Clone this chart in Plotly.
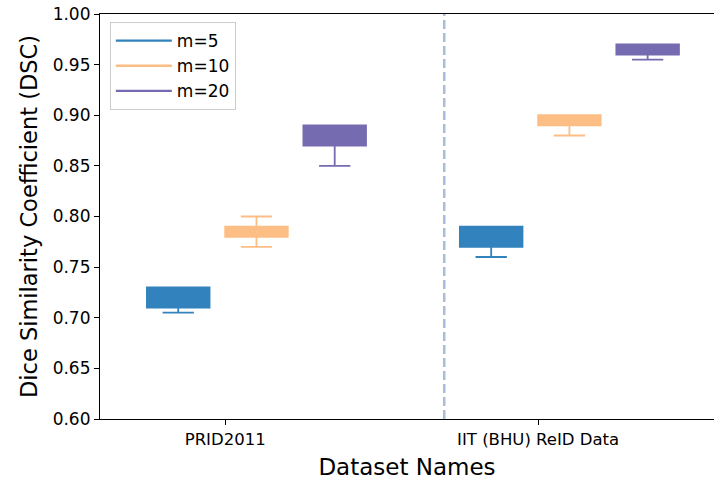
import plotly.graph_objects as go

categories = ["PRID2011", "IIT (BHU) ReID Data"]
series = ["m=5", "m=10", "m=20"]
colors = ["#3182bd", "#fdbe85", "#756bb1"]
offsets = [-0.15, 0.10, 0.35]

lowerfence = {"m=5": [0.705, 0.76], "m=10": [0.77, 0.88], "m=20": [0.85, 0.955]}
q1 = {"m=5": [0.71, 0.77], "m=10": [0.78, 0.89], "m=20": [0.87, 0.96]}
median = {"m=5": [0.72, 0.78], "m=10": [0.785, 0.895], "m=20": [0.88, 0.965]}
q3 = {"m=5": [0.73, 0.79], "m=10": [0.79, 0.90], "m=20": [0.89, 0.97]}
upperfence = {"m=5": [0.73, 0.79], "m=10": [0.80, 0.90], "m=20": [0.89, 0.97]}

cat_pos = [0, 1]
sep_x = 0.7

fig = go.Figure()
for s, c, off in zip(series, colors, offsets):
    fig.add_trace(go.Box(
        x=[p + off for p in cat_pos],
        q1=q1[s], median=median[s], q3=q3[s],
        lowerfence=lowerfence[s], upperfence=upperfence[s],
        width=0.2, whiskerwidth=0.5,
        fillcolor=c, line=dict(color=c, width=1.8),
        showlegend=False, hoverinfo="skip",
    ))
for s, c in zip(series, colors):
    fig.add_trace(go.Scatter(x=[None], y=[None], mode="lines", name=s,
                             line=dict(color=c, width=2.4)))

fig.add_shape(type="line", xref="x", yref="paper", x0=sep_x, x1=sep_x, y0=0, y1=1,
              line=dict(color="#a9bdd9", width=2.5, dash="9px,4px"))

font = "DejaVu Sans"
fig.update_layout(
    width=714, height=480,
    margin=dict(l=100, r=0, t=14, b=61),
    plot_bgcolor="white", paper_bgcolor="white",
    font=dict(family=font, size=17, color="black"),
    boxmode="overlay",
    showlegend=True,
    legend=dict(x=0.016, y=0.98, xanchor="left", yanchor="top",
                bgcolor="rgba(255,255,255,0.8)", bordercolor="#cccccc", borderwidth=1,
                font=dict(size=17), itemwidth=56, tracegroupgap=2),
    xaxis=dict(range=[-0.4, 1.562], tickvals=cat_pos, ticktext=categories,
               showline=True, linecolor="black", linewidth=1.2, mirror=True,
               ticks="outside", ticklen=5, tickcolor="black", showgrid=False, zeroline=False,
               tickfont=dict(size=16.5),
               title=dict(text="Dataset Names", font=dict(size=23), standoff=10)),
    yaxis=dict(range=[0.6, 1.0], tickvals=[0.6, 0.65, 0.7, 0.75, 0.8, 0.85, 0.9, 0.95, 1.0],
               tickformat=".2f",
               showline=True, linecolor="black", linewidth=1.2, mirror=False,
               ticks="outside", ticklen=5, tickcolor="black", showgrid=False, zeroline=False,
               tickfont=dict(size=17),
               title=dict(text="Dice Similarity Coefficient (DSC)", font=dict(size=22.5), standoff=8)),
)

fig.write_html("out.html")
